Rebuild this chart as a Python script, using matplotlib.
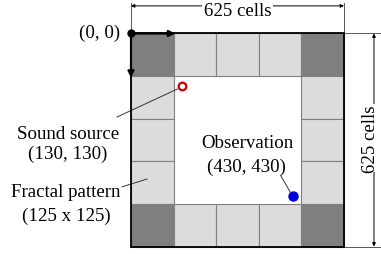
import matplotlib.pyplot as plt
from matplotlib.patches import Rectangle

# domain and fractal blocks (cells)
domain = 625
block = 125
n_blocks = domain // block

# marker positions as drawn, and their labels
source_xy = (150, 153)
source_label = ['Sound source', '(130, 130)']
obs_xy = (476, 477)
obs_label = ['Observation', '(430, 430)']
pattern_label = ['Fractal pattern', '(125 x 125)']
dim_label = '625 cells'

dark = '#7f7f7f'
light = '#dcdcdc'

plt.rcParams['font.family'] = 'Liberation Serif'
fs = 13.6

fig = plt.figure(figsize=(3.81, 2.55), dpi=100)
ax = fig.add_axes([0, 0, 1, 1])
ax.set_xlim(-384.4, 733.6)
ax.set_ylim(647.0, -101.2)
ax.axis('off')

# ring of fractal blocks, dark ones at the corners
for i in range(n_blocks):
    for j in range(n_blocks):
        if i not in (0, n_blocks - 1) and j not in (0, n_blocks - 1):
            continue
        corner = i in (0, n_blocks - 1) and j in (0, n_blocks - 1)
        ax.add_patch(Rectangle((i * block, j * block), block, block,
                               facecolor=dark if corner else light,
                               edgecolor='#808080', linewidth=0.8, zorder=1))
ax.add_patch(Rectangle((0, 0), domain, domain, fill=False,
                       edgecolor='black', linewidth=1.3, zorder=3))

# origin and axes directions
ax.plot([0], [0], 'o', color='black', markersize=5, zorder=5)
ax.annotate('', xy=(block + 5, 0), xytext=(0, 0),
            arrowprops=dict(arrowstyle='-|>', color='black', lw=1.6,
                            mutation_scale=9, shrinkA=0, shrinkB=0), zorder=5)
ax.annotate('', xy=(0, block + 5), xytext=(0, 0),
            arrowprops=dict(arrowstyle='-|>', color='black', lw=1.6,
                            mutation_scale=9, shrinkA=0, shrinkB=0), zorder=5)
ax.text(-32, -4, '(0, 0)', fontsize=fs, ha='right', va='center')

# dimension lines
dim_kw = dict(arrowstyle='<|-|>', color='black', lw=0.7,
              mutation_scale=5, shrinkA=0, shrinkB=0)
ax.annotate('', xy=(0, -81), xytext=(domain, -81), arrowprops=dim_kw)
ax.plot([0, 0], [-88, 0], color='#555555', lw=0.7)
ax.plot([domain, domain], [-88, 0], color='#555555', lw=0.7)
ax.text(domain / 2, -53, dim_label, fontsize=fs, ha='center', va='baseline',
        bbox=dict(facecolor='white', edgecolor='none', pad=1))

ax.annotate('', xy=(713, 0), xytext=(713, domain), arrowprops=dim_kw)
ax.plot([domain, 735], [0, 0], color='#555555', lw=0.7)
ax.plot([domain, 735], [domain, domain], color='#555555', lw=0.7)
ax.text(703, 307, dim_label, fontsize=fs, ha='center', va='center',
        rotation=90, bbox=dict(facecolor='white', edgecolor='none', pad=0.3))

# sound source
ax.plot([source_xy[0] - 14, -41], [source_xy[1] + 10, 245], color='#333333', lw=0.7)
ax.plot(*source_xy, 'o', markersize=5.5, markerfacecolor='white',
        markeredgecolor='#cc0000', markeredgewidth=1.6, zorder=6)
ax.text(-185, 294, source_label[0], fontsize=fs, ha='center', va='center')
ax.text(-185, 353, source_label[1], fontsize=fs, ha='center', va='center')

# fractal pattern
ax.plot([-26, 47], [450, 427], color='#333333', lw=0.7)
ax.text(-191, 464, pattern_label[0], fontsize=fs, ha='center', va='center')
ax.text(-191, 533, pattern_label[1], fontsize=fs, ha='center', va='center')

# observation
ax.plot([440, obs_xy[0] - 9], [418, obs_xy[1] - 12], color='#333333', lw=0.7)
ax.plot(*obs_xy, 'o', markersize=6.5, color='#0000dd', zorder=6)
ax.text(342, 320, obs_label[0], fontsize=fs, ha='center', va='center')
ax.text(340, 391, obs_label[1], fontsize=fs, ha='center', va='center')

fig.savefig('out.png', dpi=100)
